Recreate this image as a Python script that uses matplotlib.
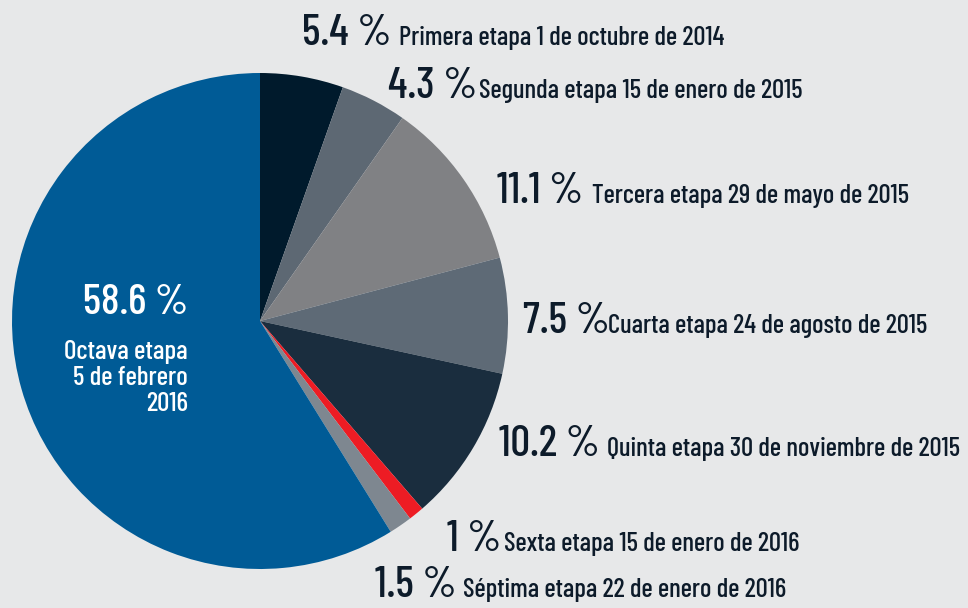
import matplotlib
matplotlib.use("Agg")
import matplotlib.pyplot as plt

# ---- data ----
percents = [5.4, 4.3, 11.1, 7.5, 10.2, 1.0, 1.5, 58.6]
pct_labels = ["5.4 %", "4.3 %", "11.1 %", "7.5 %", "10.2 %", "1 %", "1.5 %", "58.6 %"]
stage_labels = [
    "Primera etapa 1 de octubre de 2014",
    "Segunda etapa 15 de enero de 2015",
    "Tercera etapa 29 de mayo de 2015",
    "Cuarta etapa 24 de agosto de 2015",
    "Quinta etapa 30 de noviembre de 2015",
    "Sexta etapa 15 de enero de 2016",
    "Séptima etapa 22 de enero de 2016",
    "Octava etapa\n5 de febrero\n2016",
]
colors = ["#001a2c", "#5d6873", "#808184", "#5e6a76", "#1a2d3e", "#ed1c24", "#7e8790", "#005b96"]

plt.rcParams['font.family'] = ['Barlow Condensed', 'Roboto Condensed', 'DejaVu Sans']
BG = "#e7e8e9"
TXT = "#0d1b2a"
H = 608

fig = plt.figure(figsize=(9.68, 6.08), dpi=100, facecolor=BG)
ax = fig.add_axes([0, 0, 1, 1])
ax.set_facecolor(BG)

ax.pie(percents, colors=colors, startangle=90, counterclock=False,
       center=(260, H - 321), radius=248, frame=True,
       wedgeprops=dict(linewidth=0))
ax.set_xlim(0, 968)
ax.set_ylim(0, H)
ax.set_aspect('equal')
ax.axis('off')

# label layout (pixel positions): number x, label x, baseline y
layout = [
    (302, 397, 45),
    (388, 477, 98),
    (497, 590, 203),
    (523, 606, 333),
    (499, 605, 456),
    (447, 502, 551),
    (375, 461, 597),
]
for (nx, lx, by), p, s in zip(layout, pct_labels[:7], stage_labels[:7]):
    ax.text(nx, H - by, p, fontsize=31.5, color=TXT, ha='left', va='baseline', weight='medium')
    ax.text(lx + 2, H - by, s, fontsize=19.3, color=TXT, ha='left', va='baseline', weight='medium')

ax.text(188, H - 314, pct_labels[7], fontsize=31, color='white', ha='right', va='baseline', weight='medium')
ax.text(188, H - 411, stage_labels[7], fontsize=19.5, color='white', ha='right', va='baseline',
        linespacing=1.1, multialignment='right', weight='medium')

fig.savefig("out.png", dpi=100, facecolor=BG)
